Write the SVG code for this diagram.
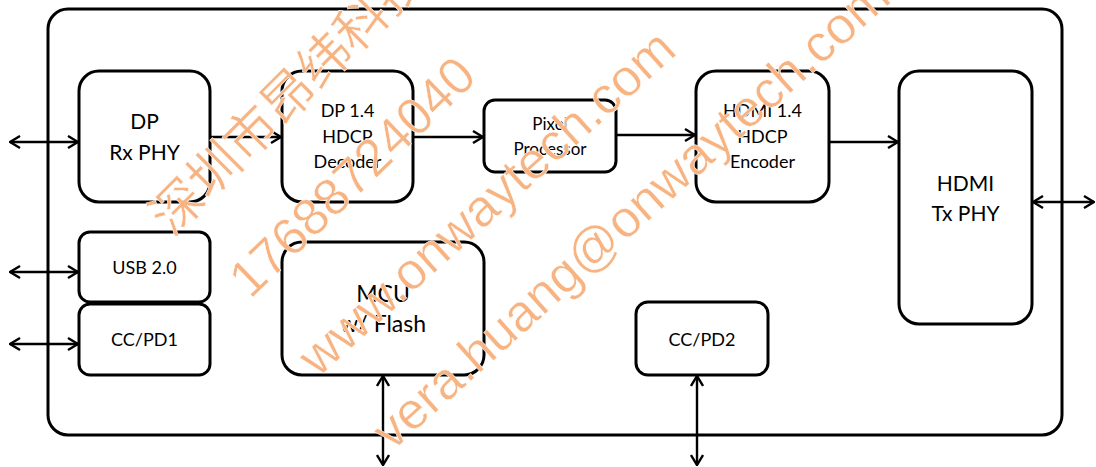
<svg xmlns="http://www.w3.org/2000/svg" width="1096" height="467" viewBox="0 0 1096 467">
<style>
.box{fill:#fff;stroke:#000;stroke-width:3}
.frame{fill:#fff;stroke:#000;stroke-width:3}
.t{font-family:Lato,"Liberation Sans",sans-serif;fill:#000;text-anchor:middle}
.c{fill:none;stroke:#000;stroke-width:2.4}
.wm{font-family:"Liberation Sans","Noto Sans CJK SC",sans-serif;font-size:52px;fill:#f7b482;stroke:#fff;stroke-width:0.5}
</style>
<defs>
<marker id="ah" viewBox="0 0 12 14" refX="11" refY="7" markerWidth="12" markerHeight="14" markerUnits="userSpaceOnUse" orient="auto-start-reverse">
<path d="M1,1 L11,7 L1,13" fill="none" stroke="#000" stroke-width="2.4"/>
</marker>
</defs>
<rect width="1096" height="467" fill="#fff"/>
<rect id="frame" class="frame" x="48" y="9" width="1014" height="426" rx="20"/>
<g id="connectors">
<line class="c" x1="10" y1="142" x2="78" y2="142" marker-start="url(#ah)" marker-end="url(#ah)"/>
<line class="c" x1="10" y1="272" x2="78" y2="272" marker-start="url(#ah)" marker-end="url(#ah)"/>
<line class="c" x1="10" y1="344" x2="78" y2="344" marker-start="url(#ah)" marker-end="url(#ah)"/>
<line class="c" x1="211" y1="137" x2="281" y2="137" marker-end="url(#ah)"/>
<line class="c" x1="414" y1="137" x2="483" y2="137" marker-end="url(#ah)"/>
<line class="c" x1="617" y1="135" x2="695" y2="135" marker-end="url(#ah)"/>
<line class="c" x1="830" y1="142" x2="898" y2="142" marker-end="url(#ah)"/>
<line class="c" x1="1033" y1="202" x2="1094" y2="202" marker-start="url(#ah)" marker-end="url(#ah)"/>
<line class="c" x1="383" y1="376" x2="383" y2="465" marker-start="url(#ah)" marker-end="url(#ah)"/>
<line class="c" x1="697" y1="376" x2="697" y2="465" marker-start="url(#ah)" marker-end="url(#ah)"/>
</g>
<g id="dp-rx-phy">
<rect class="box" x="79" y="71" width="131" height="131" rx="20"/>
<text class="t" x="144.5" y="129" font-size="21">DP</text>
<text class="t" x="144.5" y="160" font-size="21">Rx PHY</text>
</g>
<g id="dp-decoder">
<rect class="box" x="282" y="71" width="131" height="131" rx="20"/>
<text class="t" x="347.5" y="117" font-size="18">DP 1.4</text>
<text class="t" x="347.5" y="143" font-size="18">HDCP</text>
<text class="t" x="347.5" y="168" font-size="18">Decoder</text>
</g>
<g id="pixel-processor">
<rect class="box" x="484" y="100" width="132" height="72" rx="11"/>
<text class="t" x="550" y="130" font-size="17">Pixel</text>
<text class="t" x="550" y="155" font-size="17">Processor</text>
</g>
<g id="hdmi-encoder">
<rect class="box" x="696" y="71" width="133" height="131" rx="20"/>
<text class="t" x="762.5" y="117" font-size="18">HDMI 1.4</text>
<text class="t" x="762.5" y="143" font-size="18">HDCP</text>
<text class="t" x="762.5" y="168" font-size="18">Encoder</text>
</g>
<g id="hdmi-tx-phy">
<rect class="box" x="899" y="71" width="133" height="253" rx="20"/>
<text class="t" x="965.5" y="191" font-size="21">HDMI</text>
<text class="t" x="965.5" y="221" font-size="21">Tx PHY</text>
</g>
<g id="usb">
<rect class="box" x="79" y="232" width="131" height="70" rx="11"/>
<text class="t" x="144.5" y="274" font-size="18">USB 2.0</text>
</g>
<g id="cc-pd1">
<rect class="box" x="79" y="304" width="131" height="71" rx="11"/>
<text class="t" x="144.5" y="346" font-size="18">CC/PD1</text>
</g>
<g id="mcu">
<rect class="box" x="282" y="242" width="202" height="133" rx="20"/>
<text class="t" x="383" y="302" font-size="23">MCU</text>
<text class="t" x="383" y="332" font-size="23">w/ Flash</text>
</g>
<g id="cc-pd2">
<rect class="box" x="636" y="302" width="132" height="73" rx="12"/>
<text class="t" x="702" y="346" font-size="18">CC/PD2</text>
</g>
<g id="watermark">
<text class="wm" transform="translate(172,238) rotate(-45)" font-size="55">深圳市昂纬科技</text>
<text class="wm" transform="translate(250,300) rotate(-44)">17688724040</text>
<text class="wm" transform="translate(318,378) rotate(-42)">www.onwaytech.com</text>
<text class="wm" transform="translate(392,452) rotate(-42)">vera.huang@onwaytech.com</text>
</g>
</svg>
